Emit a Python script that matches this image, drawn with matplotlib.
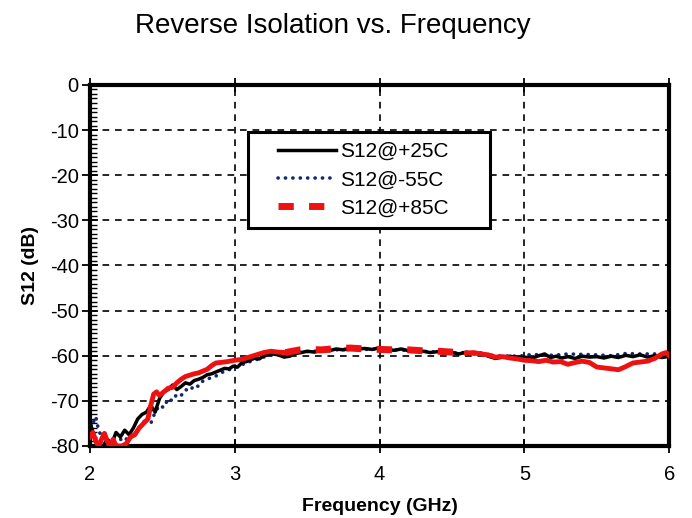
import numpy as np
import matplotlib
matplotlib.use("Agg")
import matplotlib.pyplot as plt
from matplotlib.ticker import MultipleLocator
from matplotlib.patches import Rectangle

plt.rcParams['font.family'] = ['Liberation Sans', 'DejaVu Sans']

# S12 @ +25C
freq_25 = [2.00, 2.02, 2.04, 2.06, 2.09, 2.12, 2.15, 2.18, 2.21, 2.24, 2.27, 2.30,
           2.33, 2.36, 2.39, 2.42, 2.45, 2.48, 2.51, 2.54, 2.57, 2.60, 2.63, 2.66,
           2.69, 2.72, 2.75, 2.78, 2.81, 2.84, 2.87, 2.90, 2.93, 2.96, 2.99, 3.02,
           3.05, 3.08, 3.11, 3.14, 3.17, 3.20, 3.23, 3.26, 3.30, 3.34, 3.38, 3.42,
           3.46, 3.50, 3.55, 3.60, 3.65, 3.70, 3.75, 3.80, 3.85, 3.90, 3.95, 4.00,
           4.05, 4.10, 4.15, 4.20, 4.25, 4.30, 4.35, 4.40, 4.45, 4.50, 4.55, 4.60,
           4.65, 4.70, 4.75, 4.80, 4.85, 4.90, 4.95, 5.00, 5.05, 5.10, 5.14, 5.18,
           5.22, 5.26, 5.30, 5.35, 5.40, 5.45, 5.50, 5.55, 5.60, 5.65, 5.70, 5.75,
           5.80, 5.85, 5.90, 5.95, 6.00]
s12_25 = [-74.5, -77.0, -78.5, -80.0, -80.0, -78.5, -79.5, -77.0, -78.0, -76.5, -77.5, -76.0,
          -74.0, -73.0, -72.5, -71.0, -72.5, -69.5, -68.0, -67.5, -66.5, -67.5, -66.8, -66.0,
          -66.3, -65.5, -65.2, -64.8, -64.2, -64.0, -63.6, -63.2, -62.8, -62.9, -62.3, -62.5,
          -61.5, -61.3, -60.9, -60.5, -60.7, -60.0, -59.7, -59.6, -59.8, -60.3, -60.1, -59.5,
          -59.3, -59.0, -59.2, -58.8, -58.9, -58.5, -58.7, -58.3, -58.5, -58.4, -58.6, -58.2,
          -58.6, -58.8, -58.5, -58.9, -58.7, -59.0, -59.3, -59.1, -59.4, -59.3, -59.6, -59.2,
          -59.6, -59.4, -60.1, -60.6, -60.3, -60.1, -60.4, -60.3, -60.6, -60.0, -59.6, -60.4,
          -60.1, -60.5, -60.2, -60.6, -60.1, -60.3, -60.2, -60.5, -60.1, -60.4, -59.9, -60.2,
          -59.8, -60.3, -60.0, -60.4, -60.1]

# S12 @ -55C
freq_m55 = [2.00, 2.02, 2.04, 2.06, 2.08, 2.10, 2.12, 2.15, 2.18, 2.21, 2.24, 2.27,
            2.30, 2.33, 2.36, 2.39, 2.42, 2.45, 2.48, 2.51, 2.54, 2.57, 2.60, 2.63,
            2.66, 2.69, 2.72, 2.75, 2.78, 2.81, 2.84, 2.87, 2.90, 2.93, 2.96, 2.99,
            3.02, 3.05, 3.08, 3.11, 3.14, 3.17, 3.20, 3.23, 3.27, 3.31, 3.35, 3.40,
            3.45, 3.50, 3.60, 3.70, 3.80, 3.90, 4.00, 4.10, 4.20, 4.30, 4.40, 4.50,
            4.60, 4.70, 4.80, 4.90, 5.00, 5.05, 5.10, 5.20, 5.30, 5.40, 5.50, 5.60,
            5.70, 5.80, 5.90, 6.00]
s12_m55 = [-76.0, -75.0, -73.5, -76.5, -78.0, -77.0, -80.0, -79.0, -80.0, -78.5, -79.0, -77.5,
           -78.0, -76.0, -75.5, -73.5, -75.0, -72.5, -71.0, -71.5, -69.5, -70.0, -68.5, -68.8,
           -67.5, -67.8, -66.5, -66.8, -65.6, -65.3, -64.7, -64.5, -63.8, -63.5, -63.1, -62.8,
           -62.4, -61.9, -61.8, -61.2, -61.0, -60.6, -60.3, -60.0, -59.8, -59.6, -59.9, -59.5,
           -59.2, -59.1, -58.9, -58.7, -58.5, -58.6, -58.5, -58.7, -58.8, -59.0, -59.2, -59.4,
           -59.3, -59.6, -60.0, -60.1, -60.0, -59.7, -59.8, -59.9, -59.6, -59.7, -59.8, -60.0,
           -59.5, -59.6, -59.6, -59.7]

# S12 @ +85C
freq_85 = [2.00, 2.02, 2.04, 2.06, 2.08, 2.10, 2.12, 2.14, 2.16, 2.18, 2.22, 2.25,
           2.28, 2.31, 2.34, 2.37, 2.40, 2.42, 2.44, 2.46, 2.48, 2.51, 2.54, 2.57,
           2.60, 2.63, 2.66, 2.69, 2.72, 2.75, 2.78, 2.81, 2.84, 2.87, 2.90, 2.95,
           3.00, 3.05, 3.10, 3.15, 3.20, 3.25, 3.30, 3.35, 3.40, 3.45, 3.50, 3.60,
           3.70, 3.80, 3.90, 4.00, 4.10, 4.20, 4.30, 4.40, 4.50, 4.60, 4.65, 4.70,
           4.75, 4.80, 4.85, 4.90, 4.95, 5.00, 5.05, 5.10, 5.15, 5.20, 5.25, 5.30,
           5.35, 5.40, 5.45, 5.50, 5.55, 5.60, 5.65, 5.70, 5.75, 5.80, 5.85, 5.90,
           5.95, 5.98, 6.00]
s12_85 = [-78.0, -77.0, -79.0, -80.0, -78.5, -77.2, -79.0, -80.0, -78.5, -80.0, -80.0, -79.5,
          -78.0, -77.5, -76.0, -75.0, -74.0, -71.0, -68.5, -68.0, -68.8, -68.0, -67.2, -67.0,
          -66.0, -65.2, -64.6, -64.3, -64.0, -63.8, -63.4, -63.0, -62.2, -61.6, -61.5, -61.3,
          -61.0, -60.8, -60.3, -59.8, -59.3, -59.0, -59.2, -59.3, -59.0, -58.7, -58.6, -58.7,
          -58.4, -58.3, -58.5, -58.6, -58.7, -58.7, -58.9, -59.0, -59.2, -59.4, -59.3, -59.6,
          -59.8, -60.3, -60.2, -60.5, -60.7, -61.0, -61.1, -61.3, -61.0, -61.4, -61.3, -61.9,
          -61.5, -61.2, -61.5, -62.5, -62.7, -62.9, -63.1, -62.4, -61.6, -61.4, -61.2, -60.6,
          -59.6, -59.3, -60.0]

x_ticks = [2, 3, 4, 5, 6]
y_ticks = [0, -10, -20, -30, -40, -50, -60, -70, -80]

RED = '#ee1111'
NAVY = '#13286e'

fig = plt.figure(figsize=(6.92, 5.18), dpi=100)
ax = fig.add_axes([0.130, 0.139, 0.837, 0.697])

ax.plot(freq_25, s12_25, color='black', lw=2.5, zorder=4, label='S12@+25C')
ax.plot(freq_m55, s12_m55, color=NAVY, lw=2.6, linestyle=(0, (0.05, 2.0)),
        dash_capstyle='round', zorder=3, label='S12@-55C')

# hot curve: solid through the busy regions, long dashes across the plateau
f85 = np.array(freq_85)
v85 = np.array(s12_85)
mid = (f85 >= 3.35) & (f85 <= 4.60)
left = f85 <= 3.35
right = f85 >= 4.60
ax.plot(f85[left], v85[left], color=RED, lw=3.5, zorder=5)
ax.plot(f85[mid], v85[mid], color=RED, lw=5.0, zorder=5,
        linestyle=(0, (2.2, 2.2)), dash_capstyle='butt', label='S12@+85C')
ax.plot(f85[right], v85[right], color=RED, lw=3.5, zorder=5)

ax.set_xlim(2, 6)
ax.set_ylim(-80, 0)
ax.set_xticks(x_ticks)
ax.set_yticks(y_ticks)
ax.set_xticklabels([str(t) for t in x_ticks])
ax.set_yticklabels([str(t) for t in y_ticks])
ax.yaxis.set_minor_locator(MultipleLocator(1))

ax.grid(True, which='major', color='black', linestyle=(0, (4, 3.5)), lw=1.2)
ax.set_axisbelow(True)

for sp in ax.spines.values():
    sp.set_linewidth(3.0)

ax.tick_params(axis='y', which='major', direction='inout', length=12, width=1.3,
               labelsize=14.5, pad=2)
ax.tick_params(axis='y', which='minor', direction='in', length=5, width=1.0,
               left=True, right=False)
ax.tick_params(axis='x', which='major', direction='inout', length=10, width=1.3,
               top=True, labelsize=14.5, pad=9)

ax.set_xlabel('Frequency (GHz)', fontsize=14, fontweight='bold', labelpad=10)
ax.set_ylabel('S12 (dB)', fontsize=14, fontweight='bold', labelpad=8)

fig.text(0.481, 0.950, 'Reverse Isolation vs. Frequency', fontsize=20,
         ha='center', va='center')

# legend box, wider than the entries themselves
box = Rectangle((0.272, 0.604), 0.418, 0.266, transform=ax.transAxes,
                facecolor='white', edgecolor='black', lw=2.2, zorder=6)
ax.add_patch(box)

handles, labels = ax.get_legend_handles_labels()
leg = ax.legend(handles, labels, loc='center', bbox_to_anchor=(0.472, 0.737),
                fontsize=15, frameon=False, handlelength=2.8, handletextpad=0.2,
                borderpad=0, labelspacing=0.45, borderaxespad=0)
leg.set_zorder(7)

fig.savefig('out.png', dpi=100, facecolor='white')
